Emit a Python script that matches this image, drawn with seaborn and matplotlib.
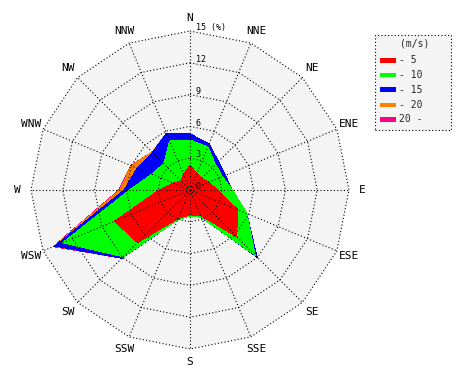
import numpy as np
import matplotlib
matplotlib.use("Agg")
import matplotlib.pyplot as plt
from matplotlib.patches import Rectangle
import seaborn as sns

# ---- data (cumulative frequency in %, by wind speed class) ----
directions = ["N", "NNE", "NE", "ENE", "E", "ESE", "SE", "SSE",
              "S", "SSW", "SW", "WSW", "W", "WNW", "NW", "NNW"]
cum_le5 = [2.3, 1.7, 1.55, 1.9, 2.6, 4.9, 6.2, 2.6,
           2.35, 2.9, 7.0, 7.7, 2.9, 1.7, 1.2, 1.6]
cum_le10 = [4.7, 4.4, 3.4, 3.3, 4.0, 5.8, 8.7, 2.8,
            2.45, 3.05, 8.9, 13.0, 5.7, 3.9, 3.5, 5.0]
cum_le15 = [5.3, 4.7, 3.8, 3.6, 4.0, 5.8, 8.95, 2.8,
            2.45, 3.05, 9.1, 13.8, 6.2, 5.4, 5.0, 5.8]
cum_le20 = [5.3, 4.7, 3.8, 3.6, 4.0, 5.8, 8.95, 2.8,
            2.45, 3.05, 9.1, 13.85, 6.6, 6.0, 5.05, 5.8]
cum_all = [5.3, 4.7, 3.8, 3.6, 4.0, 5.8, 8.95, 2.8,
           2.45, 3.05, 9.1, 13.95, 6.7, 6.05, 5.05, 5.8]
speed_labels = ["- 5", "- 10", "- 15", "- 20", "20 -"]
legend_title = "(m/s)"
ring_values = [0, 3, 6, 9, 12, 15]
unit_label = "(%)"

colors = ["#ff0000", "#00ff00", "#0000ff", "#ff8000", "#ff0080"]

sns.set_theme(style="white")
plt.rcParams['font.family'] = ['DejaVu Sans Mono', 'DejaVu Sans']

W, H = 470, 380
fig = plt.figure(figsize=(W / 100, H / 100), dpi=100)
ax = fig.add_axes([0, 0, 1, 1])
scale = 10.6          # px per %
cx, cy = 190, 190     # centre in px
ax.set_xlim(-cx / scale, (W - cx) / scale)
ax.set_ylim(-(H - cy) / scale, cy / scale)
ax.axis('off')


def P(px, py):
    return ((px - cx) / scale, (cy - py) / scale)


n = len(directions)
theta = np.deg2rad(np.arange(n) * 360.0 / n)


def xy(r):
    r = np.asarray(r, dtype=float)
    return r * np.sin(theta), r * np.cos(theta)


rmax = ring_values[-1]
# background of the plotting disc
bx, by = xy(np.full(n, rmax))
ax.fill(bx, by, color="#f4f4f4", zorder=0, lw=0)

# stacked polygons (outermost first)
layers = [cum_all, cum_le20, cum_le15, cum_le10, cum_le5]
layer_cols = colors[::-1]
for i, (vals, col) in enumerate(zip(layers, layer_cols)):
    x, y = xy(vals)
    ax.fill(x, y, color=col, lw=0, zorder=1 + i, antialiased=False)

# polygonal grid
dot = (0, (1, 2))
for rv in ring_values[1:]:
    x, y = xy(np.full(n, rv))
    ax.plot(np.r_[x, x[0]], np.r_[y, y[0]], color="black", lw=0.8,
            ls=dot, zorder=10)
ox, oy = xy(np.full(n, rmax))
for k in range(n):
    ax.plot([0, ox[k]], [0, oy[k]], color="black", lw=0.8, ls=dot, zorder=10)

# ring labels
for rv in ring_values:
    txt = f"{rv}" if rv != rmax else f"{rv} {unit_label}"
    ax.text(0.55, rv + 0.08, txt, ha="left", va="baseline", fontsize=6,
            color="black", zorder=11)

# direction labels
lx, ly = xy(np.full(n, 16.25))
for k, d in enumerate(directions):
    ax.text(lx[k], ly[k], d, ha="center", va="center", fontsize=8,
            color="black", zorder=11)

# legend
x0, y0 = P(375, 130)
x1, y1 = P(451, 35)
ax.add_patch(Rectangle((x0, y0), x1 - x0, y1 - y0, facecolor="#f4f4f4",
                       edgecolor="black", lw=0.8, ls=dot, zorder=12))
tx, ty = P(415, 44)
ax.text(tx, ty, legend_title, ha="center", va="center", fontsize=7, zorder=13)
ys = [60.3, 75, 89.7, 105, 119.3]
for lab, col, py in zip(speed_labels, colors, ys):
    ax0, ay0 = P(380, py + 2.3)
    ax1, ay1 = P(396, py - 2.3)
    ax.add_patch(Rectangle((ax0, ay0), ax1 - ax0, ay1 - ay0, facecolor=col,
                           lw=0, zorder=13))
    lx0, ly0 = P(399, py)
    ax.text(lx0, ly0, lab, ha="left", va="center", fontsize=7, zorder=13)

fig.savefig("out.png", dpi=100, facecolor="white")
